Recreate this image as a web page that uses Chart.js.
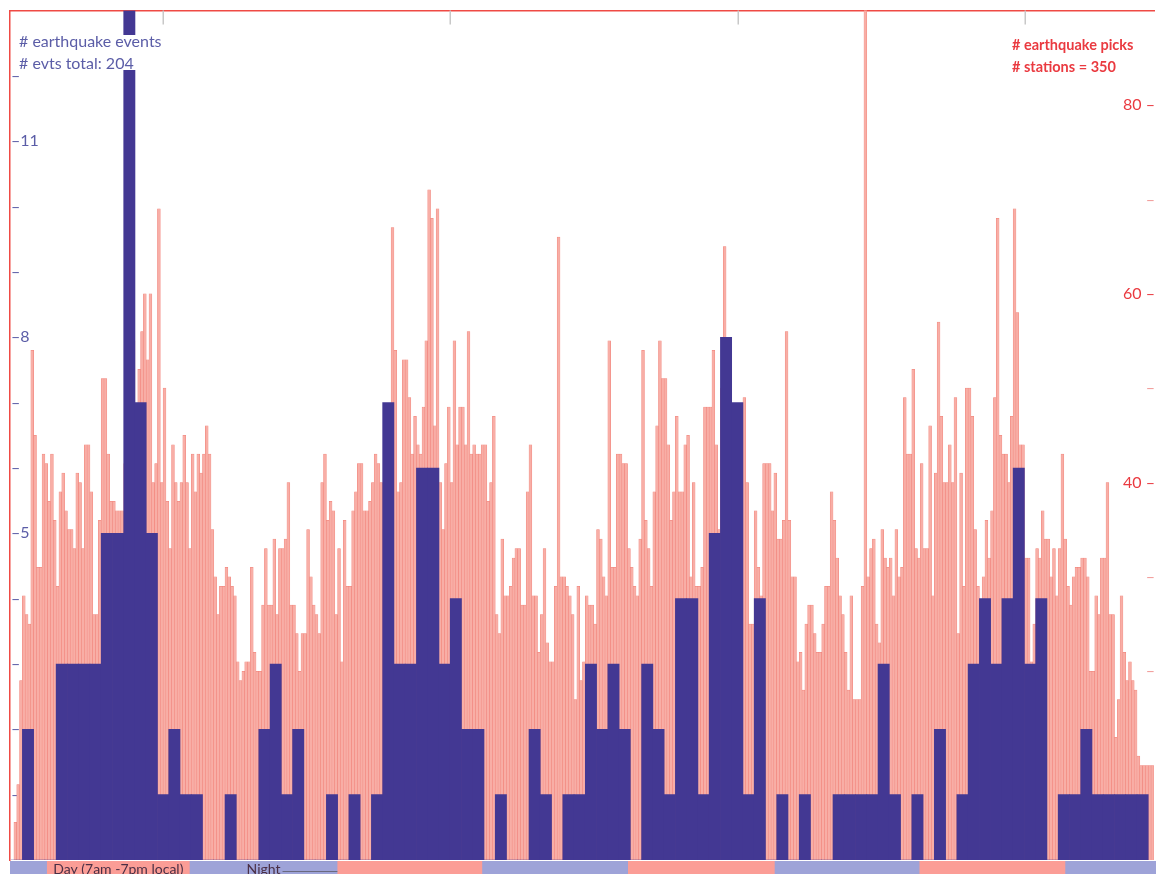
<!DOCTYPE html>
<html>
<head>
<meta charset="utf-8">
<script src="https://cdn.jsdelivr.net/npm/chart.js@4.4.1/dist/chart.umd.min.js"></script>
<style>
  html, body { margin: 0; padding: 0; background: #fff; overflow: hidden; }
  canvas { display: block; }
</style>
</head>
<body>
<canvas id="chart" width="1156" height="874"></canvas>
<script>
// Earthquake events per time bin (left axis)
const eventCounts = [
  0, 2, 0, 0, 3, 3, 3, 3, 5, 5,
  13, 7, 5, 1, 2, 1, 1, 0, 0, 1,
  0, 0, 2, 3, 1, 2, 0, 0, 1, 0,
  1, 0, 1, 7, 3, 3, 6, 6, 3, 4,
  2, 2, 0, 1, 0, 0, 2, 1, 0, 1,
  1, 3, 2, 3, 2, 0, 3, 2, 1, 4,
  4, 1, 5, 8, 7, 1, 4, 0, 1, 0,
  1, 0, 0, 1, 1, 1, 1, 3, 1, 0,
  1, 0, 2, 0, 1, 3, 4, 3, 4, 6,
  3, 4, 0, 1, 1, 2, 1, 1, 1, 1,
  1
];

// Earthquake picks, four sub-bins per event bin (right axis)
const pickCounts = [
  0,4,8,19, 28,26,25,54, 45,31,31,43, 42,38,43,36, 29,39,41,37,
  35,35,33,41, 40,33,44,44, 39,26,26,36, 51,51,43,38, 38,37,37,37,
  42,46,50,55, 48,52,56,60, 53,60,40,42, 69,40,50,38, 33,44,40,38,
  40,45,40,33, 43,39,43,41, 43,46,43,35, 30,26,29,29, 31,30,29,28,
  21,19,20,21, 21,31,22,20, 20,27,33,27, 27,34,26,33, 33,34,40,27,
  27,24,20,24, 24,35,30,27, 26,24,40,43, 36,38,37,26, 33,21,36,29,
  29,37,39,42, 42,37,37,38, 40,43,42,40, 35,36,38,67, 54,39,40,53,
  53,49,43,47, 44,43,48,55, 71,68,46,69, 40,35,42,48, 40,55,44,48,
  48,44,56,43, 44,43,43,44, 44,38,40,47, 26,24,34,28, 28,29,32,33,
  33,27,27,39, 44,28,28,22, 26,33,23,21, 21,29,66,30, 30,29,28,26,
  17,29,19,21, 28,27,27,25, 35,34,30,28, 55,31,31,43, 43,42,42,33,
  31,29,28,34, 54,36,33,29, 39,46,55,51, 51,44,36,39, 47,39,39,44,
  45,30,40,29, 29,31,48,48, 48,54,44,35, 50,65,52,50, 45,47,46,44,
  49,40,25,25, 37,31,28,42, 42,42,37,41, 34,34,36,56, 36,30,30,21,
  22,18,25,27, 27,24,22,22, 25,29,29,39, 36,32,28,26, 22,18,28,17,
  17,17,29,92, 30,33,34,25, 23,35,32,31, 32,28,35,30, 31,49,43,43,
  52,33,32,42, 33,33,46,28, 41,57,47,40, 40,44,40,49, 24,41,29,50,
  50,47,35,29, 24,30,36,32, 37,49,68,45, 43,43,40,47, 69,58,44,44,
  32,32,21,25, 33,32,37,34, 34,30,33,28, 33,43,34,29, 27,30,31,31,
  32,32,30,20, 20,28,26,32, 32,40,26,26, 13,17,28,22, 19,21,19,18,
  11,10,10,10, 10,10
];
const PICKS_PER_BIN = 4;

// Axis labels
const eventTickLabels = [11, 8, 5];
const pickTickLabels = [80, 60, 40];
const eventsTitle = ['# earthquake events', '# evts total: 204'];
const picksTitle = ['# earthquake picks', '# stations = 350'];

// Daytime spans (in bin units) for the day/night strip
const dayBands = [[3.18, 15.86], [28.98, 41.84], [54.79, 67.82], [80.68, 93.63]];
const dayLabel = 'Day (7am -7pm local)';
const nightLabel = 'Night';
// Day marks along the top edge (bin units)
const dayMarks = [13.47, 39.0, 64.55, 90.09];

const X_MIN = -0.1, X_MAX = 101.51;
const EVENT_MAX = 13, PICK_MAX = 90;

const RED = '#ef4a44';
const EVENT_BLUE = '#433893';
const EVENT_TEXT = '#5b5da7';
const PICK_TEXT = '#ea3a40';

// Only the range ends as ticks on the time axes, so bar widths follow the bin spacing
const edgeTicksOnly = axis => { axis.ticks = [{ value: X_MIN }, { value: X_MAX }]; };

const decor = {
  id: 'decor',
  afterDatasetsDraw(chart) {
    const { ctx } = chart;
    ctx.save();
    ctx.fillStyle = '#ffffff';
    ctx.fillRect(17, 35, 153, 35);
    ctx.textBaseline = 'alphabetic';
    ctx.textAlign = 'left';
    ctx.font = '16px Lato';
    ctx.fillStyle = EVENT_TEXT;
    ctx.fillText(eventsTitle[0], 19, 47);
    ctx.fillText(eventsTitle[1], 19, 69);
    ctx.font = 'bold 14.5px Lato';
    ctx.fillStyle = PICK_TEXT;
    ctx.fillText(picksTitle[0], 1012, 50);
    ctx.fillText(picksTitle[1], 1012, 72);
    ctx.restore();
  },
  afterDraw(chart) {
    const { ctx, chartArea, width, height } = chart;
    const xs = chart.scales.xb;
    const top = chartArea.bottom + 1;
    ctx.save();
    // night background, then day spans
    ctx.fillStyle = '#9ea3d8';
    ctx.fillRect(chartArea.left, top, width - chartArea.left, height - top);
    ctx.fillStyle = '#fb9d96';
    dayBands.forEach(([a, b]) => {
      const x0 = xs.getPixelForValue(a), x1 = xs.getPixelForValue(b);
      ctx.fillRect(x0, top, x1 - x0, height - top);
    });
    ctx.font = '14px Lato';
    ctx.fillStyle = '#4a2f45';
    ctx.textAlign = 'center';
    ctx.textBaseline = 'middle';
    const d0 = dayBands[0];
    ctx.fillText(dayLabel, (xs.getPixelForValue(d0[0]) + xs.getPixelForValue(d0[1])) / 2, top + 8);
    const nA = xs.getPixelForValue(dayBands[0][1]), nB = xs.getPixelForValue(dayBands[1][0]);
    const nc = (nA + nB) / 2;
    ctx.fillText(nightLabel, nc, top + 8);
    const nw = ctx.measureText(nightLabel).width;
    ctx.strokeStyle = '#6a6a80';
    ctx.lineWidth = 1;
    ctx.beginPath();
    ctx.moveTo(nc + nw / 2 + 2, height - 2.5);
    ctx.lineTo(nB, height - 2.5);
    ctx.stroke();
    // day marks on the top edge
    ctx.strokeStyle = '#c8c8c8';
    ctx.lineWidth = 1.5;
    dayMarks.forEach(v => {
      const x = Math.round(xs.getPixelForValue(v)) + 0.25;
      ctx.beginPath();
      ctx.moveTo(x, chartArea.top);
      ctx.lineTo(x, chartArea.top + 14);
      ctx.stroke();
    });
    ctx.restore();
  }
};

function build() {
  const eventData = eventCounts.map((v, i) => ({ x: i + 0.5, y: v }));
  const pickData = pickCounts.map((v, i) => ({ x: (i + 0.5) / PICKS_PER_BIN, y: v }));

  new Chart(document.getElementById('chart'), {
    type: 'bar',
    data: {
      datasets: [
        {
          label: '# earthquake events',
          data: eventData,
          xAxisID: 'xb',
          yAxisID: 'y',
          backgroundColor: EVENT_BLUE,
          borderWidth: 0,
          grouped: false,
          barPercentage: 1,
          categoryPercentage: 1,
          order: 0
        },
        {
          label: '# earthquake picks',
          data: pickData,
          xAxisID: 'xp',
          yAxisID: 'y2',
          backgroundColor: '#f8aea6',
          borderColor: '#f07f76',
          borderWidth: 0.5,
          grouped: false,
          barPercentage: 1,
          categoryPercentage: 1,
          order: 1
        }
      ]
    },
    options: {
      responsive: false,
      animation: false,
      devicePixelRatio: 1,
      layout: { padding: { left: 8, top: 9, right: 0, bottom: 14 } },
      plugins: { legend: { display: false }, tooltip: { enabled: false } },
      scales: {
        xb: {
          type: 'linear', position: 'top', min: X_MIN, max: X_MAX, offset: false,
          afterBuildTicks: edgeTicksOnly,
          grid: { display: false, drawTicks: false },
          ticks: { display: false },
          border: { display: true, color: RED, width: 1.5 }
        },
        xp: {
          type: 'linear', position: 'bottom', min: X_MIN, max: X_MAX, offset: false,
          afterBuildTicks: edgeTicksOnly,
          display: false
        },
        y: {
          position: 'left', min: 0, max: EVENT_MAX,
          grid: { display: false, drawTicks: false },
          border: { display: true, color: RED, width: 1.5 },
          ticks: {
            mirror: true, padding: 1, stepSize: 1, autoSkip: false,
            color: EVENT_TEXT,
            font: { family: 'Lato', size: 16 },
            callback: v => eventTickLabels.includes(v) ? '–' + v : (v > 0 && v < EVENT_MAX ? '–' : '')
          }
        },
        y2: {
          position: 'right', min: 0, max: PICK_MAX,
          grid: { display: false, drawTicks: false },
          border: { display: false },
          ticks: {
            mirror: true, padding: 1, stepSize: 10, autoSkip: false,
            color: ctx => pickTickLabels.includes(ctx.tick.value) ? PICK_TEXT : '#f19a98',
            font: { family: 'Lato', size: 16 },
            callback: v => pickTickLabels.includes(v) ? v + ' –' : (v > 0 && v < PICK_MAX ? '–' : '')
          }
        }
      }
    },
    plugins: [decor]
  });
}

Promise.all([
  document.fonts.load('16px Lato'),
  document.fonts.load('bold 14.5px Lato'),
  document.fonts.load('14px Lato')
]).then(build, build);
</script>
</body>
</html>
